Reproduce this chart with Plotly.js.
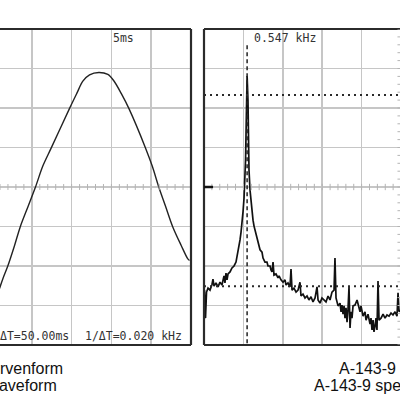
<!DOCTYPE html>
<html>
<head>
<meta charset="utf-8">
<script src="https://cdn.plot.ly/plotly-3.0.1.min.js"></script>
<style>
  html, body { margin: 0; padding: 0; background: #ffffff; overflow: hidden; }
  #scope { width: 400px; height: 400px; }
</style>
</head>
<body>
<div id="scope"></div>
<script>
// ---- Waveform (time domain), 5 ms/div, 1 V/div ----
const waveTimeMs = [25.94, 26.36, 26.98, 27.83, 28.54, 29.55, 30.46, 31.38, 32.44, 34.74,
                    35.65, 36.41, 37.25, 38.42, 39.55, 40.30, 41.23, 42.19, 44.28, 45.13,
                    45.95, 46.79, 47.71, 48.77, 49.60, 49.81];
const waveVolts  = [-2.57, -2.32, -2.00, -1.48, -1.01, -0.48, 0.00, 0.53, 0.99, 1.99,
                    2.37, 2.68, 2.84, 2.90, 2.85, 2.69, 2.37, 1.99, 0.99, 0.53,
                    0.00, -0.48, -1.01, -1.48, -1.82, -1.86];

// ---- Spectrum (frequency domain), 0.5 kHz/div, 10 dB/div ----
const specFreqKHz = [0.006, 0.019, 0.032, 0.051, 0.076, 0.102, 0.114, 0.127, 0.152, 0.178,
  0.203, 0.228, 0.254, 0.266, 0.279, 0.292, 0.305, 0.330, 0.355, 0.381,
  0.406, 0.419, 0.431, 0.444, 0.457, 0.470, 0.482, 0.495, 0.508, 0.520,
  0.527, 0.533, 0.539, 0.543, 0.547, 0.558, 0.565, 0.571, 0.584, 0.596,
  0.609, 0.622, 0.635, 0.647, 0.660, 0.685, 0.698, 0.711, 0.736, 0.749,
  0.774, 0.799, 0.812, 0.838, 0.850, 0.863, 0.876, 0.888, 0.914, 0.939,
  0.952, 0.977, 1.003, 1.028, 1.041, 1.066, 1.091, 1.104, 1.117, 1.142,
  1.168, 1.193, 1.218, 1.231, 1.256, 1.282, 1.307, 1.332, 1.358, 1.383,
  1.409, 1.434, 1.447, 1.472, 1.497, 1.523, 1.548, 1.574, 1.599, 1.624,
  1.650, 1.662, 1.675, 1.701, 1.726, 1.739, 1.751, 1.764, 1.777, 1.789,
  1.802, 1.815, 1.827, 1.840, 1.853, 1.865, 1.878, 1.891, 1.916, 1.942,
  1.954, 1.980, 1.992, 2.018, 2.043, 2.056, 2.081, 2.107, 2.119, 2.132,
  2.145, 2.157, 2.170, 2.183, 2.195, 2.208, 2.221, 2.246, 2.272, 2.297,
  2.322, 2.348, 2.373, 2.398, 2.424, 2.449, 2.462, 2.475, 2.487];
const specLevelDb = [-66.1, -73.2, -66.6, -65.6, -66.1, -64.6, -63.3, -65.1, -64.3, -65.3,
  -64.1, -64.8, -62.5, -64.3, -61.8, -63.5, -62.0, -61.5, -60.5, -60.0,
  -59.0, -57.7, -56.5, -54.9, -53.4, -51.4, -49.4, -46.3, -42.8, -38.2,
  -33.2, -26.8, -20.5, -15.4, -11.9, -18.0, -28.1, -35.7, -40.8, -43.8,
  -46.3, -48.4, -49.9, -50.9, -52.4, -53.9, -55.2, -55.9, -56.5, -58.0,
  -59.0, -59.0, -60.0, -60.0, -61.0, -61.5, -59.0, -62.3, -62.0, -63.0,
  -62.5, -63.5, -64.1, -63.5, -64.8, -64.3, -65.3, -60.8, -66.1, -65.6,
  -66.6, -66.1, -64.1, -67.6, -67.1, -68.1, -67.6, -68.6, -67.8, -69.1,
  -68.1, -65.3, -68.6, -69.4, -68.1, -68.6, -69.1, -67.6, -68.6, -66.6,
  -66.1, -58.0, -68.1, -70.1, -69.4, -71.6, -69.9, -72.2, -70.1, -73.2,
  -70.6, -74.2, -71.1, -65.3, -75.7, -71.6, -73.2, -70.1, -69.9, -68.6,
  -69.6, -71.6, -70.1, -72.7, -71.6, -73.7, -72.2, -74.7, -73.2, -76.2,
  -73.7, -76.7, -75.2, -73.2, -76.2, -63.8, -73.7, -73.2, -72.2, -73.2,
  -72.4, -72.7, -71.9, -72.4, -71.6, -72.7, -66.8, -71.6, -71.1];

// ---- Cursor readouts ----
const deltaTms = 50.0;
const timePerDivMs = 5;
const cursorFreqKHz = 0.547;
const cursorLevelsDb = [-16.7, -65.1];
const groundLevelDb = -40;

// ---- Captions ----
const captionLeft = ["A-143-9 Kurvenform", "A-143-9 waveform"];
const captionRight = ["A-143-9 Spektrum", "A-143-9 spectrum"];

// ---- Graticule settings ----
const W = 400, H = 400;
const topPx = 29, botPx = 345;
const leftPanelRightPx = 191;
const rightPanelLeftPx = 204;
const gridColor = "#c6c6c6";
const frameColor = "#2b2b2b";
const inkColor = "#222222";
const scopeFont = { family: "DejaVu Sans Mono, monospace", size: 11.5, color: "#333333" };
const capFont = { family: "Liberation Sans, Arial, sans-serif", size: 16, color: "#111111" };

const yDomain = [1 - botPx / H, 1 - topPx / H];
const tRange = [26.0, 50.0];
const vRange = [-4, 4];
const fRange = [0, 2.487];
const dbRange = [-80, 0];

const traces = [
  { x: waveTimeMs, y: waveVolts, xaxis: "x", yaxis: "y", type: "scatter", mode: "lines",
    line: { color: inkColor, width: 1.4, shape: "spline", smoothing: 0.9 }, hoverinfo: "skip" },
  { x: specFreqKHz, y: specLevelDb, xaxis: "x2", yaxis: "y2", type: "scatter", mode: "lines",
    line: { color: "#111111", width: 1.7 }, hoverinfo: "skip" }
];

function gridAxis(extra) {
  return Object.assign({
    showgrid: true, gridcolor: gridColor, gridwidth: 1.5,
    zeroline: false, showline: false, showticklabels: false, ticks: "",
    fixedrange: true
  }, extra);
}

const shapes = [];
function seg(xref, yref, x0, y0, x1, y1, color, width, dash) {
  shapes.push({ type: "line", xref, yref, x0, y0, x1, y1, layer: "above",
    line: { color, width, dash: dash || "solid" } });
}

// frames: left panel (top, bottom, right), right panel (top, bottom, left)
seg("x domain", "y domain", 0, 1, 1, 1, frameColor, 2);
seg("x domain", "y domain", 0, 0, 1, 0, frameColor, 2);
seg("x domain", "y domain", 1, 0, 1, 1, frameColor, 2.2);
seg("x2 domain", "y2 domain", 0, 1, 1, 1, frameColor, 2);
seg("x2 domain", "y2 domain", 0, 0, 1, 0, frameColor, 2);
seg("x2 domain", "y2 domain", 0, 0, 0, 1, frameColor, 2.2);

// minor ticks on the centre lines (five per division)
const tickCol = "#b4b4b4";
for (let t = Math.ceil(tRange[0]); t < tRange[1]; t += timePerDivMs / 5) {
  seg("x", "y", t, -0.075, t, 0.075, tickCol, 1);
}
for (let k = 1; k * 0.1 < fRange[1]; k++) {
  const f = k * 0.1;
  seg("x2", "y2", f, -40.8, f, -39.2, tickCol, 1);
}
for (let d = -80; d <= 0; d += 2) {
  seg("x2", "y2", 2.455, d, 2.545, d, tickCol, 1);
}

// ground marker
seg("x2", "y2", 0, groundLevelDb, 0.115, groundLevelDb, "#111111", 2.5);

// cursors
seg("x2", "y2", cursorFreqKHz, -4.1, cursorFreqKHz, -80, "#222222", 1.5, "4px,3px");
cursorLevelsDb.forEach(function (lv) {
  seg("x2", "y2", 0, lv, fRange[1], lv, "#2a2a2a", 2, "2px,4px");
});

function px(v) { return v / W; }
function py(v) { return 1 - v / H; }
function note(text, x, y, xanchor, font) {
  return { text, x: px(x), y: py(y), xref: "paper", yref: "paper", xanchor, yanchor: "middle",
    showarrow: false, font, borderpad: 0 };
}

const annotations = [
  note(timePerDivMs + "ms", 112, 38, "left", scopeFont),
  note(cursorFreqKHz.toFixed(3) + " kHz", 253, 38, "left", scopeFont),
  note("\u0394T=" + deltaTms.toFixed(2) + "ms", 70, 336, "right", scopeFont),
  note("1/\u0394T=" + (1 / deltaTms).toFixed(3) + " kHz", 84, 336, "left", scopeFont),
  note(captionLeft[0], 64, 368, "right", capFont),
  note(captionLeft[1], 58, 385, "right", capFont),
  note(captionRight[0], 338, 368, "left", capFont),
  note(captionRight[1], 313, 385, "left", capFont)
];

const layout = {
  width: W, height: H,
  margin: { l: 0, r: 0, t: 0, b: 0, pad: 0 },
  paper_bgcolor: "#ffffff", plot_bgcolor: "#ffffff",
  showlegend: false,
  xaxis: gridAxis({ domain: [0, leftPanelRightPx / W], range: tRange, dtick: timePerDivMs, tick0: 0, anchor: "y" }),
  yaxis: gridAxis({ domain: yDomain, range: vRange, dtick: 1, tick0: 0, anchor: "x" }),
  xaxis2: gridAxis({ domain: [rightPanelLeftPx / W, 1], range: fRange, dtick: 0.5, tick0: 0, anchor: "y2" }),
  yaxis2: gridAxis({ domain: yDomain, range: dbRange, dtick: 10, tick0: 0, anchor: "x2" }),
  shapes, annotations
};

Plotly.newPlot("scope", traces, layout, { displayModeBar: false, staticPlot: true });
</script>
</body>
</html>
